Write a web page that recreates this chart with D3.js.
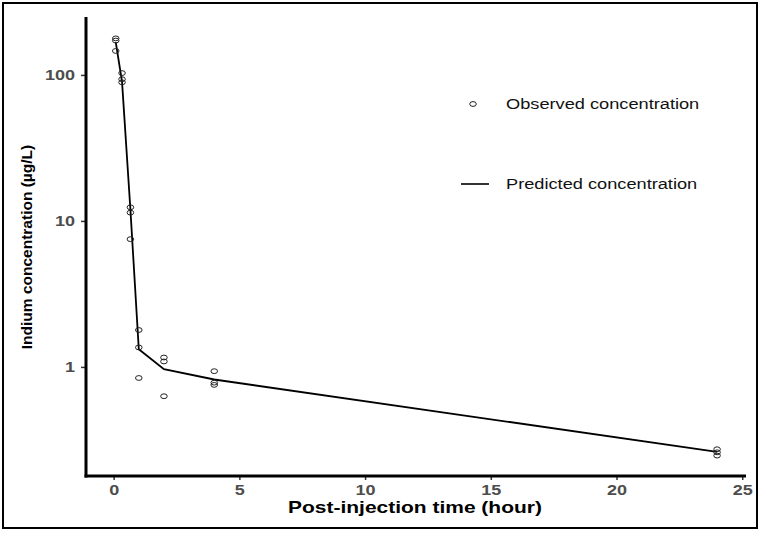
<!DOCTYPE html>
<html>
<head>
<meta charset="utf-8">
<script src="https://cdn.jsdelivr.net/npm/d3@7"></script>
<style>
  body { margin: 0; background: #fff; }
  svg { display: block; }
  text { font-family: "Liberation Sans", Arial, sans-serif; }
</style>
</head>
<body>
<svg id="chart" width="762" height="533"></svg>
<script>
// observed samples (hours, µg/L)
const obsTime = [0.083, 0.083, 0.083, 0.333, 0.333, 0.333, 0.667, 0.667, 0.667,
  1, 1, 1, 2, 2, 2, 4, 4, 4, 24, 24, 24];
const obsConc = [178, 172, 146, 103, 93.5, 89, 12.4, 11.4, 7.5,
  1.79, 1.36, 0.84, 1.16, 1.09, 0.63, 0.935, 0.78, 0.753, 0.273, 0.26, 0.247];

// model prediction at the sampling times
const predTime = [0.083, 0.333, 0.667, 1, 2, 4, 24];
const predConc = [168, 90, 11.9, 1.32, 0.965, 0.82, 0.262];

const xTicks = [0, 5, 10, 15, 20, 25];
const yTicks = [1, 10, 100];

const legendItems = ["Observed concentration", "Predicted concentration"];

const svg = d3.select("#chart");

// the source picture is a bit wider than tall, so text is stretched sideways
function stretch(sel, sx) {
  sel.each(function () {
    const w = this.getComputedTextLength();
    d3.select(this).attr("textLength", w * sx).attr("lengthAdjust", "spacingAndGlyphs");
  });
}

const x = d3.scaleLinear().domain([-1.1, 25.15]).range([86, 746]);
const y = d3.scaleLog().domain([0.179, 245.5]).range([476, 18]);

svg.append("rect")
  .attr("x", 3).attr("y", 3).attr("width", 754).attr("height", 525)
  .attr("fill", "none").attr("stroke", "#000").attr("stroke-width", 2);

// axes
const xAxis = svg.append("g")
  .attr("transform", "translate(0,476)")
  .call(d3.axisBottom(x).tickValues(xTicks).tickSize(4).tickPadding(4).tickFormat(d3.format("d")));
xAxis.select(".domain").remove();
xAxis.selectAll(".tick line").attr("stroke", "#333").attr("stroke-width", 1.5);
xAxis.selectAll(".tick text")
  .attr("fill", "#4d4d4d").attr("font-size", 15).attr("font-weight", "bold")
  .call(stretch, 1.2);

const yAxis = svg.append("g")
  .attr("transform", "translate(86,0)")
  .call(d3.axisLeft(y).tickValues(yTicks).tickSize(5).tickPadding(6).tickFormat(d3.format("d")));
yAxis.select(".domain").remove();
yAxis.selectAll(".tick line").attr("stroke", "#333").attr("stroke-width", 1.5);
yAxis.selectAll(".tick text")
  .attr("fill", "#4d4d4d").attr("font-size", 15).attr("font-weight", "bold")
  .call(stretch, 1.2);

svg.append("line")
  .attr("x1", 86).attr("x2", 86).attr("y1", 17).attr("y2", 477.5)
  .attr("stroke", "#000").attr("stroke-width", 3);
svg.append("line")
  .attr("x1", 84.5).attr("x2", 746).attr("y1", 476).attr("y2", 476)
  .attr("stroke", "#000").attr("stroke-width", 3);

// axis titles
svg.append("text")
  .attr("x", 415).attr("y", 513)
  .attr("text-anchor", "middle")
  .attr("font-size", 16.5).attr("font-weight", "bold")
  .text("Post-injection time (hour)")
  .call(stretch, 1.27);

svg.append("text")
  .attr("transform", "translate(32,247) rotate(-90)")
  .attr("text-anchor", "middle")
  .attr("font-size", 15.5).attr("font-weight", "bold")
  .text("Indium concentration (µg/L)");

// prediction line
const line = d3.line()
  .x((d, i) => x(predTime[i]))
  .y((d) => y(d));

svg.append("path")
  .attr("d", line(predConc))
  .attr("fill", "none").attr("stroke", "#000").attr("stroke-width", 1.8);

// observed points
svg.selectAll(".obs")
  .data(obsConc)
  .join("ellipse")
  .attr("class", "obs")
  .attr("cx", (d, i) => x(obsTime[i]))
  .attr("cy", (d) => y(d))
  .attr("rx", 3.3).attr("ry", 2.4)
  .attr("fill", "none").attr("stroke", "#222").attr("stroke-width", 1);

// legend
const legend = svg.append("g");
legend.append("ellipse")
  .attr("cx", 473).attr("cy", 104).attr("rx", 3.3).attr("ry", 2.4)
  .attr("fill", "none").attr("stroke", "#222").attr("stroke-width", 1);
legend.append("line")
  .attr("x1", 461).attr("x2", 489).attr("y1", 184).attr("y2", 184)
  .attr("stroke", "#000").attr("stroke-width", 1.6);
legend.selectAll(".legend-label")
  .data(legendItems)
  .join("text")
  .attr("class", "legend-label")
  .attr("x", 506)
  .attr("y", (d, i) => (i === 0 ? 109 : 189))
  .attr("font-size", 14)
  .attr("fill", "#111")
  .text((d) => d)
  .call(stretch, 1.3);
</script>
</body>
</html>
